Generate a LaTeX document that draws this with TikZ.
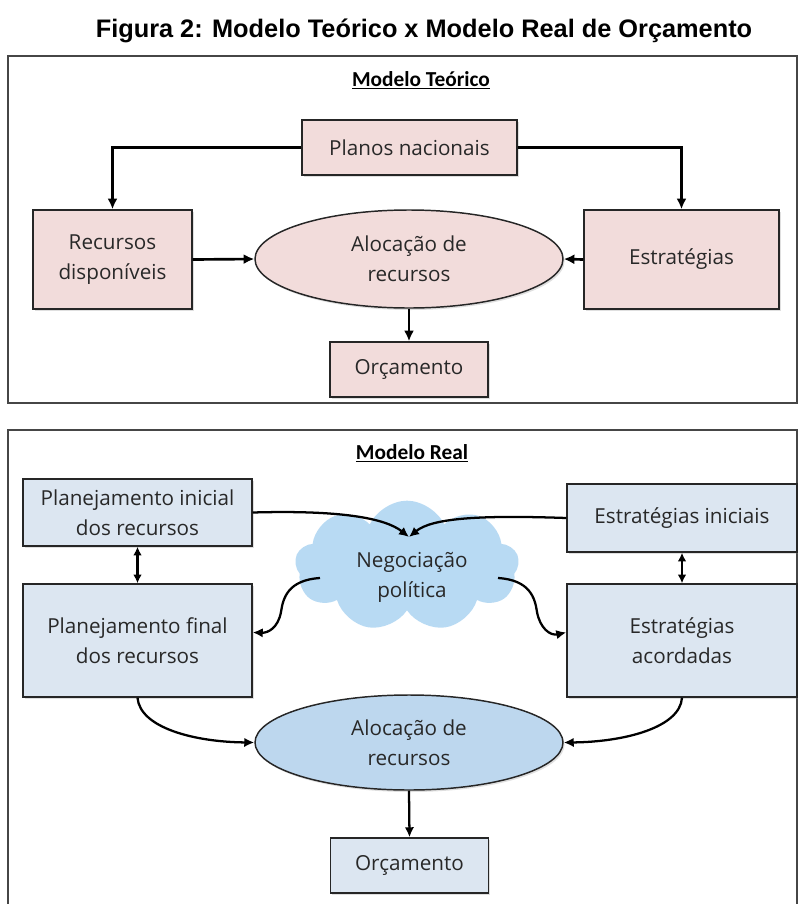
\documentclass[tikz,border=0pt]{standalone}
\usepackage{fontspec}
\setmainfont{Open Sans}
\newfontfamily\headfont{Carlito}
\newfontfamily\titlefont{Liberation Sans}
\usetikzlibrary{arrows.meta,shapes.geometric,shapes.symbols,shadows}

\definecolor{pinkfill}{RGB}{242,220,219}
\definecolor{bluefill}{RGB}{220,230,241}
\definecolor{ovalblue}{RGB}{189,215,238}
\definecolor{cloudblue}{RGB}{184,218,243}
\definecolor{framegray}{RGB}{70,70,70}
\definecolor{textgray}{RGB}{40,40,40}

\tikzset{
  box/.style={draw=black!85, line width=1.1pt, align=center, inner sep=0pt,
    text=textgray, font=\fontsize{15.5}{22.5}\selectfont,
    drop shadow={opacity=0.25, shadow xshift=1.2pt, shadow yshift=-1.5pt}},
  oval/.style={box, ellipse},
  heading/.style={font=\headfont\bfseries\fontsize{16}{19}\selectfont},
  frame/.style={draw=framegray, line width=1.3pt},
  arr/.style={line width=2pt, -{Latex[length=8pt,width=7.5pt]}},
  arrthin/.style={line width=1.7pt, -{Latex[length=7.5pt,width=7pt]}},
  darr/.style={line width=1.8pt, {Latex[length=6.5pt,width=6.5pt]}-{Latex[length=6.5pt,width=6.5pt]}}
}

\begin{document}
\begin{tikzpicture}[x=0.75pt,y=0.75pt,yscale=-1]
\useasboundingbox (0,0) rectangle (798,904);

% Title
\node (title) at (424,31) [font=\titlefont\bfseries\fontsize{19}{23}\selectfont] {Figura 2: Modelo Teórico x Modelo Real de Orçamento};

%Shape: Rectangle (top frame)
\draw [frame] (8,56) rectangle (797,403);
%Shape: Rectangle (bottom frame)
\draw [frame] (8,430) rectangle (797,912);

% Text Node
\node (headteo) at (421,80) [heading] {\underline{Modelo Teórico}};
% Text Node
\node (headreal) at (412,453) [heading] {\underline{Modelo Real}};

%% Modelo Teorico
\node (plan) at (409.5,147.5) [box, fill=pinkfill, minimum width=161.25pt, minimum height=41.25pt] {Planos nacionais};
\node (recd) at (112.5,259.5) [box, fill=pinkfill, minimum width=119.25pt, minimum height=74.25pt] {Recursos\\disponíveis};
\node (estr) at (681.5,259.5) [box, fill=pinkfill, minimum width=146.25pt, minimum height=74.25pt] {Estratégias};
\node (aloc) at (409,259) [oval, fill=pinkfill, minimum width=231pt, minimum height=73.5pt] {Alocação de\\recursos};
\node (orc) at (409,369.5) [box, fill=pinkfill, minimum width=118.5pt, minimum height=41.25pt] {Orçamento};

%Straight Lines
\draw [arr] (plan.west) -| (recd.north);
\draw [arr] (plan.east) -| (estr.north);
\draw [arr] (recd.east) -- (aloc.west);
\draw [arr] (estr.west) -- (aloc.east);
\draw [arr] (aloc.south) -- (orc.north);

%% Modelo Real
\node (neg) at (407,566) [cloud, cloud puffs=9, cloud puff arc=130, aspect=1.8, fill=cloudblue, inner sep=0pt,
  minimum width=168pt, minimum height=98pt] {};
\node (negtxt) at (412,577) [align=center, text=textgray, font=\fontsize{15.5}{22.5}\selectfont] {Negociação\\política};
\node (pini) at (137.5,512.5) [box, fill=bluefill, minimum width=171.75pt, minimum height=50.25pt] {Planejamento inicial\\dos recursos};
\node (pfin) at (137.5,640.5) [box, fill=bluefill, minimum width=171.75pt, minimum height=84.75pt] {Planejamento final\\dos recursos};
\node (eini) at (682,518) [box, fill=bluefill, minimum width=172.5pt, minimum height=51pt] {Estratégias iniciais};
\node (eaco) at (682,640.5) [box, fill=bluefill, minimum width=172.5pt, minimum height=84.75pt] {Estratégias\\acordadas};
\node (aloc2) at (409,742.5) [oval, fill=ovalblue, minimum width=231pt, minimum height=71.25pt] {Alocação de\\recursos};
\node (orc2) at (409.5,865.5) [box, fill=bluefill, minimum width=118.5pt, minimum height=41.25pt] {Orçamento};

\coordinate (negin) at (409,537);
\coordinate (negl) at (320,578);
\coordinate (negr) at (498,578);

%Straight Lines
\draw [darr] (pini.south) -- (pfin.north);
\draw [darr] (eini.south) -- (eaco.north);
\draw [arrthin] (aloc2.south) -- (orc2.north);
%Curve Lines
\draw [arrthin] (pini.east) .. controls (340,510) and (385,518) .. (negin);
\draw [arrthin] (eini.west) .. controls (480,515) and (432,518) .. (negin);
\draw [arrthin] (negl) .. controls (288,580) and (283,598) .. (281,612) .. controls (278,628) and (268,633) .. (pfin.4);
\draw [arrthin] (negr) .. controls (530,580) and (535,598) .. (537,612) .. controls (540,628) and (550,636) .. (eaco.176);
\draw [arrthin] (pfin.south) .. controls (140,728) and (195,742) .. (aloc2.west);
\draw [arrthin] (eaco.south) .. controls (680,728) and (623,742) .. (aloc2.east);

\end{tikzpicture}
\end{document}
